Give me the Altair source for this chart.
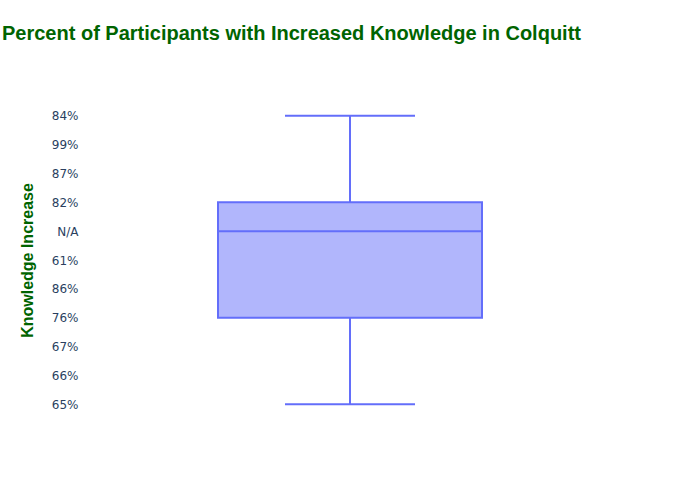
import altair as alt
import pandas as pd

# Category order on the y axis (bottom to top), as shown in the reference
categories = ["65%", "66%", "67%", "76%", "86%", "61%", "N/A", "82%", "87%", "99%", "84%"]

# Box statistics (as category labels)
lower_fence = ["65%"]
q1 = ["76%"]
median = ["N/A"]
q3 = ["82%"]
upper_fence = ["84%"]

df = pd.DataFrame({
    "low": lower_fence,
    "q1": q1,
    "med": median,
    "q3": q3,
    "high": upper_fence,
})

BLUE = "#636efa"
GREEN = "#006400"

yscale = alt.Scale(type="point", domain=categories[::-1], padding=0.55)
yaxis = alt.Axis(
    title="Knowledge Increase",
    titleColor=GREEN,
    titleFont="Liberation Sans",
    titleFontSize=16,
    titleFontWeight="bold",
    titlePadding=16,
    labelFont="DejaVu Sans",
    labelFontSize=12,
    labelColor="#2a3f5f",
    labelPadding=2,
    ticks=False,
    domain=False,
    grid=False,
)

base = alt.Chart(df)

box = base.mark_rect(fill=BLUE, fillOpacity=0.5, stroke=BLUE, strokeWidth=2).encode(
    y=alt.Y("q1:N", scale=yscale, axis=yaxis),
    y2="q3",
    x=alt.value(138),
    x2=alt.value(402),
)

med = base.mark_rule(color=BLUE, strokeWidth=2).encode(
    y=alt.Y("med:N", scale=yscale, axis=yaxis),
    x=alt.value(138),
    x2=alt.value(402),
)

whisk_lo = base.mark_rule(color=BLUE, strokeWidth=2).encode(
    y=alt.Y("low:N", scale=yscale, axis=yaxis),
    y2="q1",
    x=alt.value(270),
)

whisk_hi = base.mark_rule(color=BLUE, strokeWidth=2).encode(
    y=alt.Y("q3:N", scale=yscale, axis=yaxis),
    y2="high",
    x=alt.value(270),
)

cap_lo = base.mark_rule(color=BLUE, strokeWidth=2).encode(
    y=alt.Y("low:N", scale=yscale, axis=yaxis),
    x=alt.value(205),
    x2=alt.value(335),
)

cap_hi = base.mark_rule(color=BLUE, strokeWidth=2).encode(
    y=alt.Y("high:N", scale=yscale, axis=yaxis),
    x=alt.value(205),
    x2=alt.value(335),
)

chart = alt.layer(whisk_lo, whisk_hi, cap_lo, cap_hi, box, med).properties(
    width=540,
    height=320,
    background="white",
    title=alt.TitleParams(
        text="Percent of Participants with Increased Knowledge in Colquitt",
        font="Liberation Sans",
        fontSize=20,
        fontWeight="bold",
        color=GREEN,
        anchor="start",
        frame="group",
        dx=-78,
        offset=56,
    ),
    autosize=alt.AutoSizeParams(type="none"),
    padding={"left": 80, "top": 100, "right": 80, "bottom": 80},
).configure_view(strokeWidth=0, stroke="transparent")

chart.save("out.html", embed_options={"renderer": "svg", "actions": False})
